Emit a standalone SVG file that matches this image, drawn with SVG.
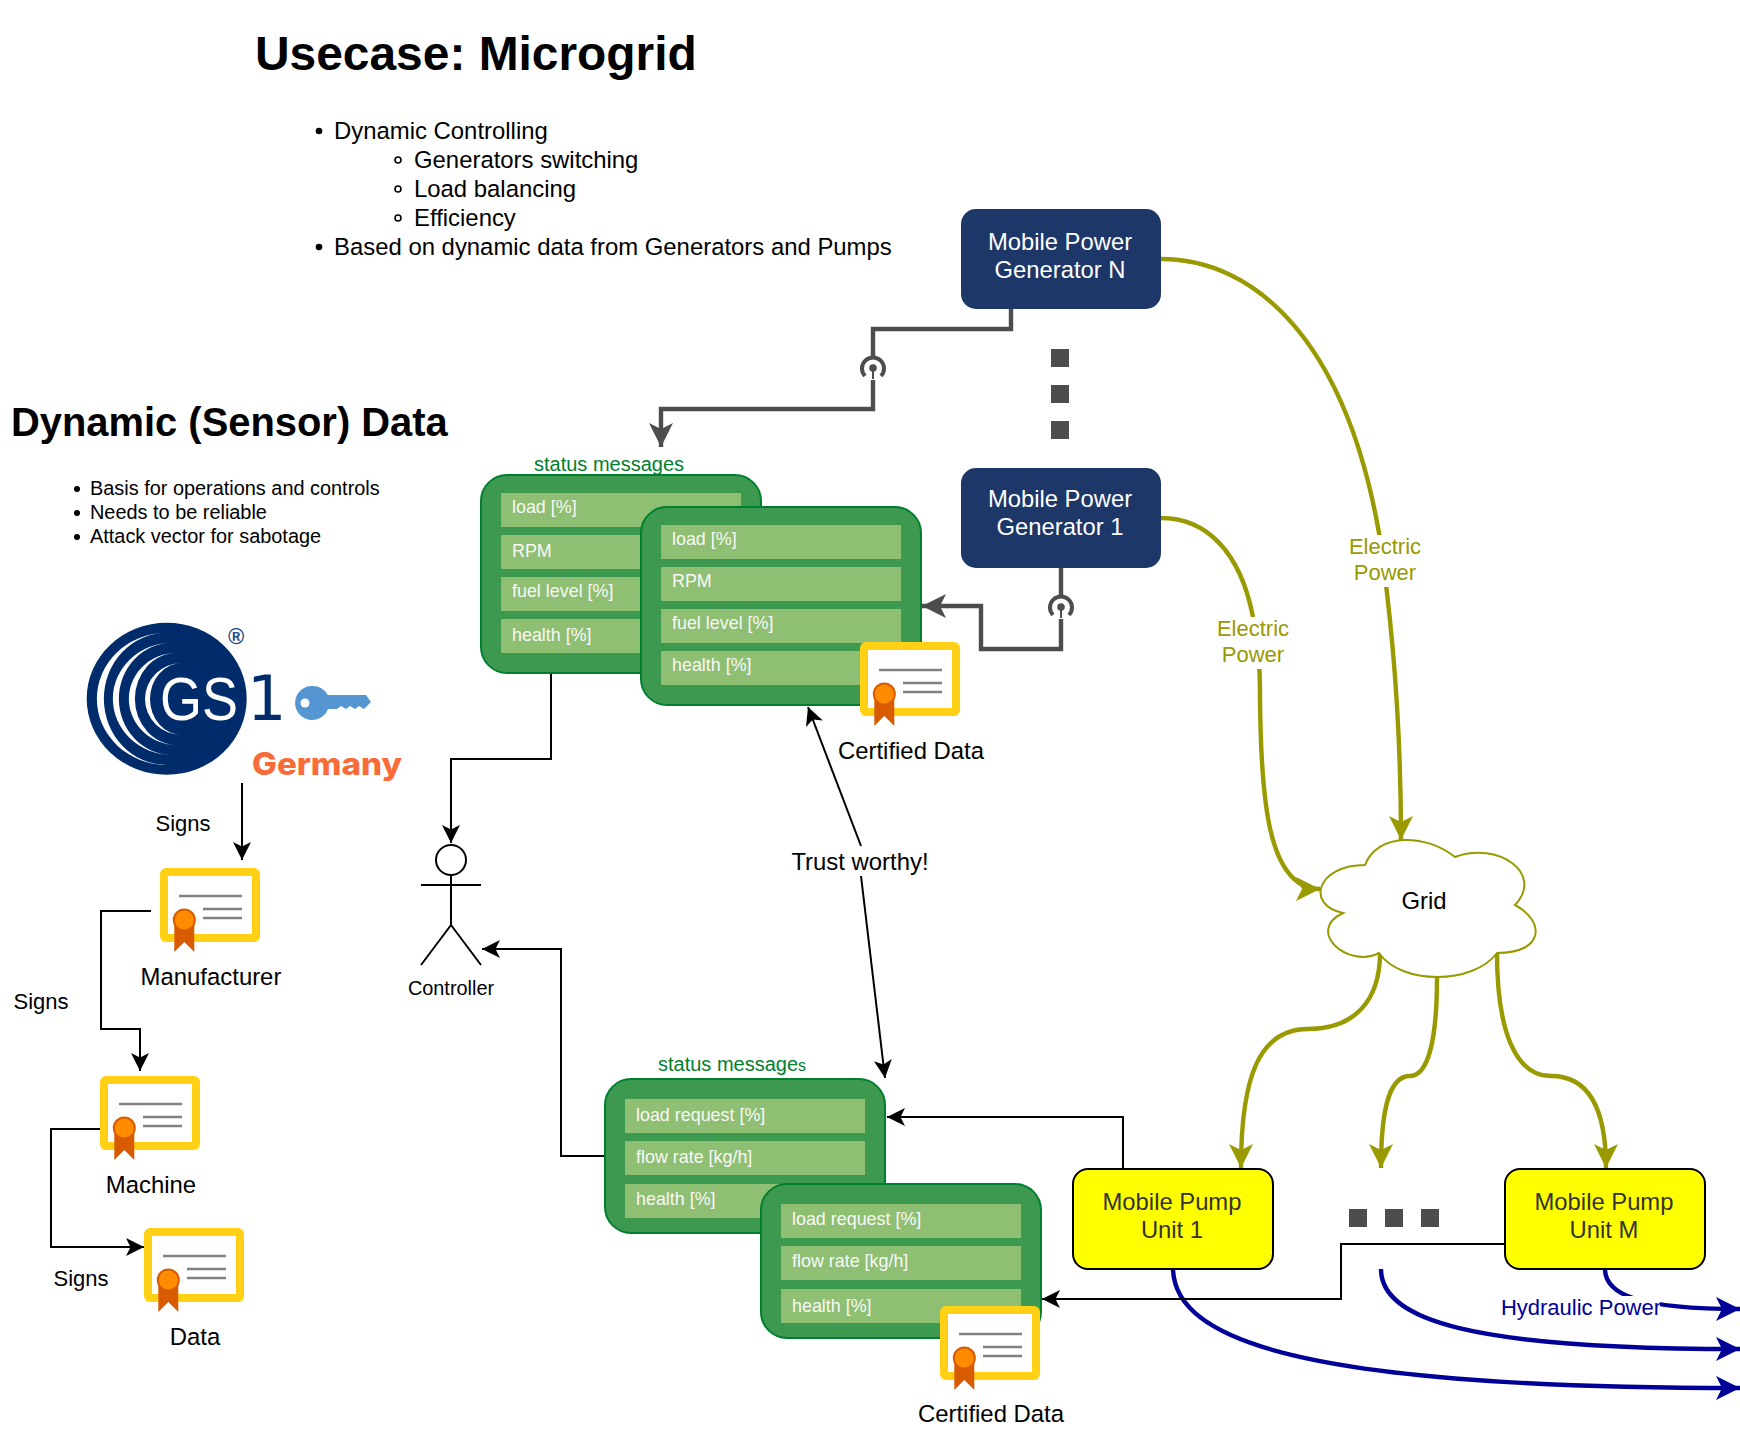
<svg xmlns="http://www.w3.org/2000/svg" xmlns:xlink="http://www.w3.org/1999/xlink" width="1740" height="1436" viewBox="0 0 1740 1436">
<style>
text{font-family:"Liberation Sans",Arial,sans-serif;fill:#000}
.c{text-anchor:middle}
.t24{font-size:23.9px}.t22{font-size:22px}.t20{font-size:19.9px}
.wh{fill:#fff;font-size:23.8px;text-anchor:middle}
.dk{fill:#333;font-size:23.8px;text-anchor:middle}
.ol{fill:#999900;font-size:22px;text-anchor:middle}
.gr{fill:#00802f;font-size:20px}
.panel{fill:#3d994f;stroke:#00802f;stroke-width:2}
.row{fill:#8fbf73}
.rt{fill:#f8f8f8;font-size:17.9px}
.dot{fill:#4d4d4d}
.blk{fill:none;stroke:#000;stroke-width:2}
.gry{fill:none;stroke:#4d4d4d;stroke-width:4.4}
.olv{fill:none;stroke:#999900;stroke-width:4.4}
.blu{fill:none;stroke:#000099;stroke-width:4.4}
</style>
<defs>
<marker id="aK" markerUnits="userSpaceOnUse" markerWidth="20" markerHeight="20" refX="18" refY="10" orient="auto"><path d="M18 10L0 1L4.5 10L0 19Z" fill="#000"/></marker>
<marker id="aG" markerUnits="userSpaceOnUse" markerWidth="26" markerHeight="28" refX="24" refY="14" orient="auto"><path d="M24 14L0 2L6 14L0 26Z" fill="#4d4d4d"/></marker>
<marker id="aO" markerUnits="userSpaceOnUse" markerWidth="26" markerHeight="28" refX="24" refY="14" orient="auto"><path d="M24 14L0 2L6 14L0 26Z" fill="#999900"/></marker>
<marker id="aB" markerUnits="userSpaceOnUse" markerWidth="26" markerHeight="28" refX="24" refY="14" orient="auto"><path d="M24 14L0 2L6 14L0 26Z" fill="#000099"/></marker>
<g id="cert">
<rect width="100" height="74" rx="6" fill="#ffd014"/>
<rect x="8" y="8" width="84" height="58" fill="#fff"/>
<path d="M19 28H82M43 41H82M43 50H82" stroke="#808080" stroke-width="2.4" fill="none"/>
<path d="M14.3 55H34.3V84L24.3 74L14.3 84Z" fill="#d95b00"/>
<circle cx="24.3" cy="52" r="10.5" fill="#ff8c00" stroke="#d95b00" stroke-width="2"/>
</g>
<g id="wifi">
<rect x="-3" y="-9" width="6" height="21" fill="#fff"/>
<path d="M0 0V11" stroke="#4d4d4d" stroke-width="2" fill="none"/>
<path d="M-8 8A11 11 0 1 1 8 8" stroke="#4d4d4d" stroke-width="4" fill="none"/>
<circle r="3.8" fill="#4d4d4d"/>
</g>
</defs>
<rect width="1740" height="1436" fill="#fff"/>

<g id="connectors">
<path class="gry" d="M1011 309V329H873V409H661V447" marker-end="url(#aG)"/>
<use xlink:href="#wifi" href="#wifi" x="873" y="368"/>
<path class="gry" d="M1061 568V649H981V606H922" marker-end="url(#aG)"/>
<use xlink:href="#wifi" href="#wifi" x="1061" y="607"/>
<path class="olv" d="M1161 259C1255 259 1345 340 1379 533C1392 620 1401 720 1401 840" marker-end="url(#aO)"/>
<path class="olv" d="M1161 518C1205 518 1240 550 1253 617C1258 640 1260 660 1260 700C1261 800 1268 889 1320 889" marker-end="url(#aO)"/>
<path class="olv" d="M1380 953C1380 1000 1355 1029 1308 1029C1260 1029 1241 1075 1241 1168" marker-end="url(#aO)"/>
<path class="olv" d="M1437 977C1437 1040 1428 1076 1410 1076C1392 1076 1381 1100 1381 1168" marker-end="url(#aO)"/>
<path class="olv" d="M1497 953C1497 1030 1515 1076 1551 1076C1590 1076 1606 1110 1606 1168" marker-end="url(#aO)"/>
<path class="blu" d="M1173 1269C1175 1340 1300 1388 1740 1388" marker-end="url(#aB)"/>
<path class="blu" d="M1381 1269C1381 1320 1470 1349 1740 1349" marker-end="url(#aB)"/>
<path class="blu" d="M1605 1269C1605 1295 1640 1309 1740 1309" marker-end="url(#aB)"/>
<path class="blk" d="M1123 1169V1117H887" marker-end="url(#aK)"/>
<path class="blk" d="M1505 1244H1341V1299H1042" marker-end="url(#aK)"/>
<path class="blk" d="M861 846L808 707" marker-end="url(#aK)"/>
<path class="blk" d="M861 876L885 1078" marker-end="url(#aK)"/>
<path class="blk" d="M551 673V759H451V843" marker-end="url(#aK)"/>
<path class="blk" d="M605 1156H561V949H482" marker-end="url(#aK)"/>
<path class="blk" d="M242 783V860" marker-end="url(#aK)"/>
<path class="blk" d="M151 911H101V1029H140V1071" marker-end="url(#aK)"/>
<path class="blk" d="M100 1129H51V1247H144" marker-end="url(#aK)"/>
<rect x="1350" y="535" width="70" height="52" fill="#fff"/>
<text class="ol" x="1385" y="554">Electric</text><text class="ol" x="1385" y="580">Power</text>
<rect x="1218" y="617" width="70" height="52" fill="#fff"/>
<text class="ol" x="1253" y="636">Electric</text><text class="ol" x="1253" y="662">Power</text>
<text class="t24 c" x="860" y="870">Trust worthy!</text>
<rect x="1502" y="1296" width="158" height="26" fill="#fff"/>
<text x="1581" y="1315" class="c" font-size="22" style="fill:#000099">Hydraulic Power</text>
</g>

<g id="title"><text x="255" y="70" font-size="47.9" font-weight="700">Usecase: Microgrid</text></g>
<g id="list-usecase" class="t24">
<circle cx="319" cy="131" r="3.3"/><text x="334" y="139">Dynamic Controlling</text>
<circle cx="398" cy="160" r="3" fill="none" stroke="#000" stroke-width="1.6"/><text x="414" y="168">Generators switching</text>
<circle cx="398" cy="189" r="3" fill="none" stroke="#000" stroke-width="1.6"/><text x="414" y="197">Load balancing</text>
<circle cx="398" cy="218" r="3" fill="none" stroke="#000" stroke-width="1.6"/><text x="414" y="226">Efficiency</text>
<circle cx="319" cy="247" r="3.3"/><text x="334" y="255">Based on dynamic data from Generators and Pumps</text>
</g>
<g id="dynamic-data"><text x="11" y="436" font-size="39.9" font-weight="700">Dynamic (Sensor) Data</text></g>
<g id="list-data" class="t20">
<circle cx="77" cy="489" r="3"/><text x="90" y="495">Basis for operations and controls</text>
<circle cx="77" cy="513" r="3"/><text x="90" y="519">Needs to be reliable</text>
<circle cx="77" cy="537" r="3"/><text x="90" y="543">Attack vector for sabotage</text>
</g>

<g id="gs1-logo">
<ellipse cx="166.7" cy="698.7" rx="80" ry="76" fill="#002c6c"/>
<path d="M167 632.7A70 66 0 0 0 167 765A63 66 0 0 1 167 632.7Z" fill="#fff"/>
<path d="M172 642.7A59 56 0 0 0 172 755A53 56 0 0 1 172 642.7Z" fill="#fff"/>
<path d="M177 652.7A48 46 0 0 0 177 745A42 46 0 0 1 177 652.7Z" fill="#fff"/>
<path d="M182 663A37 36 0 0 0 182 735A32 36 0 0 1 182 663Z" fill="#fff"/>
<text x="160" y="720" font-size="62" textLength="78" lengthAdjust="spacingAndGlyphs" style="fill:#fff">GS</text>
<text x="247" y="720" font-size="62" style="fill:#002c6c;font-family:'DejaVu Sans',sans-serif">1</text>
<text x="236" y="644" font-size="22" class="c" style="fill:#1d4a8a" font-weight="700">®</text>
<path d="M312 686A17 17 0 0 1 328 695H366L371 702L364 709L359 706L355 709L350 706L346 709L341 706L337 709H328A17 17 0 1 1 312 686Z" fill="#5596d2"/>
<circle cx="305" cy="703" r="4.5" fill="#fff"/>
<text x="252" y="775" font-size="31" font-weight="800" textLength="150" lengthAdjust="spacingAndGlyphs" style="fill:#f96b38;font-family:Inter,sans-serif">Germany</text>
</g>
<g id="signs-labels">
<text class="t22 c" x="183" y="831">Signs</text>
<text class="t22 c" x="41" y="1009">Signs</text>
<text class="t22 c" x="81" y="1286">Signs</text>
</g>

<g id="cert-manufacturer"><use xlink:href="#cert" href="#cert" x="160" y="868"/><text class="t24 c" x="211" y="985">Manufacturer</text></g>
<g id="cert-machine"><use xlink:href="#cert" href="#cert" x="100" y="1076"/><text class="t24 c" x="151" y="1193">Machine</text></g>
<g id="cert-data"><use xlink:href="#cert" href="#cert" x="144" y="1228"/><text class="t24 c" x="195" y="1345">Data</text></g>

<g id="controller">
<circle cx="451" cy="860" r="15" fill="#fff" stroke="#000" stroke-width="2"/>
<path d="M451 875V925M421 885H481M451 925L421 965M451 925L481 965" fill="none" stroke="#000" stroke-width="2"/>
<text class="t20 c" x="451" y="995">Controller</text>
</g>

<g id="gen-n"><rect x="961" y="209" width="200" height="100" rx="15" fill="#1e3769"/><text class="wh" x="1060" y="250">Mobile Power</text><text class="wh" x="1060" y="278">Generator N</text></g>
<g id="gen-dots"><rect class="dot" x="1051" y="349" width="18" height="18"/><rect class="dot" x="1051" y="385" width="18" height="18"/><rect class="dot" x="1051" y="421" width="18" height="18"/></g>
<g id="gen-1"><rect x="961" y="468" width="200" height="100" rx="15" fill="#1e3769"/><text class="wh" x="1060" y="507">Mobile Power</text><text class="wh" x="1060" y="535">Generator 1</text></g>

<g id="grid"><path d="M1365 865C1317 865 1305 905 1343 913C1305 931 1348 969 1379 953C1401 985 1473 985 1497 953C1545 953 1545 921 1515 905C1545 873 1497 841 1455 857C1425 833 1377 833 1365 865Z" fill="#fff" stroke="#999900" stroke-width="2"/><text class="t24 c" x="1424" y="909">Grid</text></g>

<g id="panel-gen-back">
<text class="gr" x="534" y="471">status messages</text>
<rect class="panel" x="481" y="475" width="280" height="198" rx="26"/>
<rect class="row" x="501" y="493" width="240" height="34"/><rect class="row" x="501" y="535" width="240" height="34"/><rect class="row" x="501" y="577" width="240" height="34"/><rect class="row" x="501" y="619" width="240" height="34"/>
<text class="rt" x="512" y="513">load [%]</text><text class="rt" x="512" y="557">RPM</text><text class="rt" x="512" y="597">fuel level [%]</text><text class="rt" x="512" y="641">health [%]</text>
</g>
<g id="panel-gen-front">
<rect class="panel" x="641" y="507" width="280" height="198" rx="26"/>
<rect class="row" x="661" y="525" width="240" height="34"/><rect class="row" x="661" y="567" width="240" height="34"/><rect class="row" x="661" y="609" width="240" height="34"/><rect class="row" x="661" y="651" width="240" height="34"/>
<text class="rt" x="672" y="545">load [%]</text><text class="rt" x="672" y="587">RPM</text><text class="rt" x="672" y="629">fuel level [%]</text><text class="rt" x="672" y="671">health [%]</text>
</g>
<g id="cert-gen"><use xlink:href="#cert" href="#cert" x="860" y="642"/><text class="t24 c" x="911" y="759">Certified Data</text></g>

<g id="panel-pump-back">
<text class="gr" x="658" y="1071">status message<tspan font-size="16">s</tspan></text>
<rect class="panel" x="605" y="1079" width="280" height="154" rx="26"/>
<rect class="row" x="625" y="1099" width="240" height="34"/><rect class="row" x="625" y="1141" width="240" height="34"/><rect class="row" x="625" y="1184" width="240" height="34"/>
<text class="rt" x="636" y="1121">load request [%]</text><text class="rt" x="636" y="1163">flow rate [kg/h]</text><text class="rt" x="636" y="1205">health [%]</text>
</g>
<g id="panel-pump-front">
<rect class="panel" x="761" y="1184" width="280" height="154" rx="26"/>
<rect class="row" x="781" y="1204" width="240" height="34"/><rect class="row" x="781" y="1246" width="240" height="34"/><rect class="row" x="781" y="1289" width="240" height="34"/>
<text class="rt" x="792" y="1225">load request [%]</text><text class="rt" x="792" y="1267">flow rate [kg/h]</text><text class="rt" x="792" y="1312">health [%]</text>
</g>
<g id="cert-pump"><use xlink:href="#cert" href="#cert" x="940" y="1306"/><text class="t24 c" x="991" y="1422">Certified Data</text></g>

<g id="pump-1"><rect x="1073" y="1169" width="200" height="100" rx="15" fill="#ffff00" stroke="#000" stroke-width="2"/><text class="dk" x="1172" y="1210">Mobile Pump</text><text class="dk" x="1172" y="1238">Unit 1</text></g>
<g id="pump-dots"><rect class="dot" x="1349" y="1209" width="18" height="18"/><rect class="dot" x="1385" y="1209" width="18" height="18"/><rect class="dot" x="1421" y="1209" width="18" height="18"/></g>
<g id="pump-m"><rect x="1505" y="1169" width="200" height="100" rx="15" fill="#ffff00" stroke="#000" stroke-width="2"/><text class="dk" x="1604" y="1210">Mobile Pump</text><text class="dk" x="1604" y="1238">Unit M</text></g>
</svg>
